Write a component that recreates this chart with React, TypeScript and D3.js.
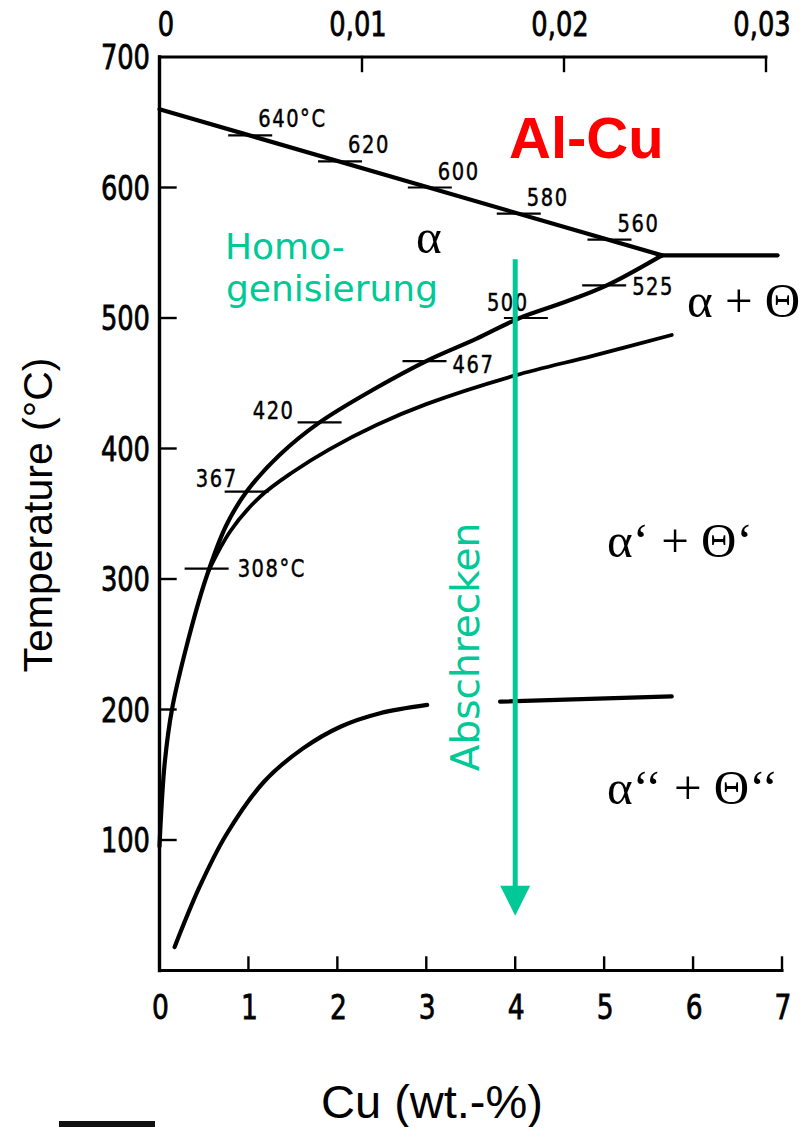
import React from "react";
import * as d3 from "d3";

// ---------- data ----------
const bottomTicks = [0, 1, 2, 3, 4, 5, 6, 7];
const bottomTickLabels = ["0", "1", "2", "3", "4", "5", "6", "7"];
const topTicks = [0, 0.01, 0.02, 0.03];
const topTickLabels = ["0", "0,01", "0,02", "0,03"];
const leftTicks = [100, 200, 300, 400, 500, 600, 700];
const leftTickLabels = ["100", "200", "300", "400", "500", "600", "700"];

// liquid/solidus boundary (Cu wt.-%, T °C)
const solidusLine: [number, number][] = [[0, 660], [5.65, 548]];
const eutecticLine: [number, number][] = [[5.65, 548], [6.95, 548]];
// alpha solvus
const solvusCurve: [number, number][] = [
  [0.0, 95], [0.02, 122], [0.06, 160], [0.14, 200], [0.31, 250], [0.52, 300],
  [0.75, 341], [0.98, 367], [1.35, 395], [1.8, 420], [2.4, 445], [3.0, 467],
  [3.56, 484], [4.05, 500], [4.55, 512], [5.03, 525], [5.65, 548],
];
// theta' solvus
const thetaPrimeCurve: [number, number][] = [
  [0.55, 306], [0.8, 337], [1.13, 363], [1.5, 382], [1.9, 399], [2.44, 418],
  [3.0, 434], [4.0, 456], [4.87, 471], [5.76, 487],
];
// GP zone solvus (two parts, gap for the label)
const gpCurveA: [number, number][] = [
  [0.17, 18], [0.45, 64], [0.75, 104], [1.18, 145], [1.61, 170], [2.04, 187],
  [2.47, 197], [3.01, 203.5],
];
const gpCurveB: [number, number][] = [[3.83, 206], [5.76, 210]];

// temperature marks on the boundaries
const solidusMarkCu = [1.02, 2.03, 3.04, 4.04, 5.06];
const solidusMarkT = [640, 620, 600, 580, 560];
const solidusMarkLabels = ["640°C", "620", "600", "580", "560"];
const solvusMarkCu = [0.53, 0.98, 1.8, 2.98, 4.12, 5.0];
const solvusMarkT = [308, 367, 420, 467, 500, 525];
const solvusMarkLabels = ["308°C", "367", "420", "467", "500", "525"];

// quench arrow (Cu, T start -> T end)
const quenchCu = 4.0;
const quenchT = [545, 42];

// ---------- layout ----------
const W = 809;
const H = 1127;
const X0 = 159.5;
const X7 = 782;
const YTOP = 57;
const YBOT = 970.5;

const digitFont = "'DejaVu Sans', sans-serif";
const GREEN = "#00C896";

// label placement relative to tick centre [dx, dy, anchor]
const solvusLabelPos: [number, number, string][] = [
  [31, 8, "start"],
  [-9, -5, "end"],
  [-25, -3, "end"],
  [28, 12, "start"],
  [-39, -7, "start"],
  [28, 10, "start"],
];

function Narrow(props: {
  x: number;
  y: number;
  anchor?: string;
  sx?: number;
  size: number;
  spacing?: number;
  weight?: number;
  children: React.ReactNode;
}) {
  const { x, y, anchor = "start", sx = 0.8, size, spacing = 0, weight = 0.6, children } = props;
  return (
    <text
      transform={`translate(${x},${y}) scale(${sx},1)`}
      textAnchor={anchor as any}
      fontFamily={digitFont}
      fontSize={size}
      letterSpacing={spacing}
      fill="#000"
      stroke="#000"
      strokeWidth={weight}
    >
      {children}
    </text>
  );
}

export default function App() {
  const x = d3.scaleLinear().domain([0, 7]).range([X0, X7]);
  const xTop = d3.scaleLinear().domain([0, 0.03]).range([160, 766]);
  const y = d3.scaleLinear().domain([0, 700]).range([YBOT, YTOP]);

  const line = d3
    .line<[number, number]>()
    .x((d) => x(d[0]))
    .y((d) => y(d[1]))
    .curve(d3.curveCatmullRom.alpha(0.5));
  const straight = d3
    .line<[number, number]>()
    .x((d) => x(d[0]))
    .y((d) => y(d[1]));

  const ax = x(quenchCu);
  const ay0 = y(quenchT[0]);
  const ay1 = y(quenchT[1]);

  return (
    <svg
      width={W}
      height={H}
      style={{ position: "absolute", left: 0, top: 0, background: "#fff" }}
      xmlns="http://www.w3.org/2000/svg"
    >
      <rect x={0} y={0} width={W} height={H} fill="#fff" />

      {/* axes */}
      <g stroke="#000" fill="none" strokeLinecap="square">
        <line x1={X0} y1={YTOP} x2={X0} y2={YBOT} strokeWidth={3.4} />
        <line x1={X0} y1={YBOT} x2={X7} y2={YBOT} strokeWidth={3} />
        <line x1={X0} y1={YTOP} x2={xTop(0.03)} y2={YTOP} strokeWidth={2.8} />
        {leftTicks.slice(0, 6).map((t) => (
          <line key={"lt" + t} x1={X0} x2={X0 + 16} y1={y(t)} y2={y(t)} strokeWidth={2.4} />
        ))}
        {bottomTicks.slice(1).map((t) => (
          <line key={"bt" + t} x1={x(t)} x2={x(t)} y1={YBOT} y2={YBOT - 13} strokeWidth={2.4} />
        ))}
        {topTicks.slice(1).map((t) => (
          <line key={"tt" + t} x1={xTop(t)} x2={xTop(t)} y1={YTOP} y2={YTOP + 14} strokeWidth={2.4} />
        ))}
      </g>

      {/* tick labels */}
      {leftTicks.map((t, i) => (
        <Narrow key={"ll" + t} x={150} y={y(t) + 12} anchor="end" size={33} sx={0.78} weight={0.8}>
          {leftTickLabels[i]}
        </Narrow>
      ))}
      {bottomTicks.map((t, i) => (
        <Narrow key={"bl" + t} x={x(t) + 1} y={1019} anchor="middle" size={34} sx={0.78} weight={0.8}>
          {bottomTickLabels[i]}
        </Narrow>
      ))}
      {topTicks.map((t, i) => (
        <Narrow key={"tl" + t} x={xTop(t) + (i === 0 ? 6 : -4)} y={36} anchor="middle" size={33} sx={0.78} weight={0.8}>
          {topTickLabels[i]}
        </Narrow>
      ))}

      {/* phase boundaries */}
      <g stroke="#000" fill="none" strokeLinecap="round" strokeLinejoin="round">
        <path d={straight(solidusLine) || ""} strokeWidth={4.2} />
        <path d={straight(eutecticLine) || ""} strokeWidth={4.2} />
        <path d={line(solvusCurve) || ""} strokeWidth={4.2} />
        <path d={line(thetaPrimeCurve) || ""} strokeWidth={3.8} />
        <path d={line(gpCurveA) || ""} strokeWidth={4.2} />
        <path d={straight(gpCurveB) || ""} strokeWidth={4.2} />
      </g>

      {/* temperature marks */}
      <g stroke="#000" strokeWidth={2.2}>
        {solidusMarkCu.map((c, i) => (
          <line key={"sm" + i} x1={x(c) - 22} x2={x(c) + 22} y1={y(solidusMarkT[i])} y2={y(solidusMarkT[i])} />
        ))}
        {solvusMarkCu.map((c, i) => (
          <line key={"vm" + i} x1={x(c) - 22} x2={x(c) + 22} y1={y(solvusMarkT[i])} y2={y(solvusMarkT[i])} />
        ))}
      </g>
      {solidusMarkCu.map((c, i) => (
        <Narrow key={"sl" + i} x={x(c) + 8} y={y(solidusMarkT[i]) - 8} size={25} sx={0.78} spacing={2} weight={0.5}>
          {solidusMarkLabels[i]}
        </Narrow>
      ))}
      {solvusMarkCu.map((c, i) => (
        <Narrow
          key={"vl" + i}
          x={x(c) + solvusLabelPos[i][0]}
          y={y(solvusMarkT[i]) + solvusLabelPos[i][1]}
          anchor={solvusLabelPos[i][2]}
          size={25}
          sx={0.78}
          spacing={2}
          weight={0.5}
        >
          {solvusMarkLabels[i]}
        </Narrow>
      ))}

      {/* phase labels */}
      <g fontFamily="'Liberation Serif', 'Times New Roman', serif" fontSize={49} fill="#000">
        <text x={416} y={253}>α</text>
        <text x={687} y={317}>α + Θ</text>
        <text x={607} y={557}>α‘ + Θ‘</text>
        <text x={607} y={804}>α‘‘ + Θ‘‘</text>
      </g>

      <text
        x={509}
        y={158}
        fontFamily="'Liberation Sans', Arial, sans-serif"
        fontWeight="bold"
        fontSize={58}
        fill="#FF0000"
      >
        Al-Cu
      </text>

      {/* green annotations */}
      <g fontFamily="'DejaVu Sans', sans-serif" fill={GREEN}>
        <text x={225} y={259} fontSize={36}>Homo-</text>
        <text x={226} y={301} fontSize={36}>genisierung</text>
        <text
          x={0}
          y={0}
          fontSize={39}
          textAnchor="middle"
          transform={`translate(479,647) rotate(-90)`}
        >
          Abschrecken
        </text>
      </g>
      <line x1={ax} x2={ax} y1={ay0} y2={ay1 - 26} stroke={GREEN} strokeWidth={5} />
      <path
        d={`M${ax - 15},${ay1 - 30} L${ax + 15},${ay1 - 30} L${ax},${ay1} Z`}
        fill={GREEN}
      />

      {/* axis titles */}
      <text
        x={0}
        y={0}
        fontFamily="'Liberation Sans', Arial, sans-serif"
        fontSize={41}
        textAnchor="middle"
        transform="translate(52,515) rotate(-90)"
      >
        Temperature (°C)
      </text>
      <text
        x={432}
        y={1118}
        fontFamily="'Liberation Sans', Arial, sans-serif"
        fontSize={47}
        textAnchor="middle"
      >
        Cu (wt.-%)
      </text>

      {/* cropped logo fragment at the bottom edge */}
      <rect x={59} y={1121} width={96} height={6} fill="#111" />
    </svg>
  );
}
